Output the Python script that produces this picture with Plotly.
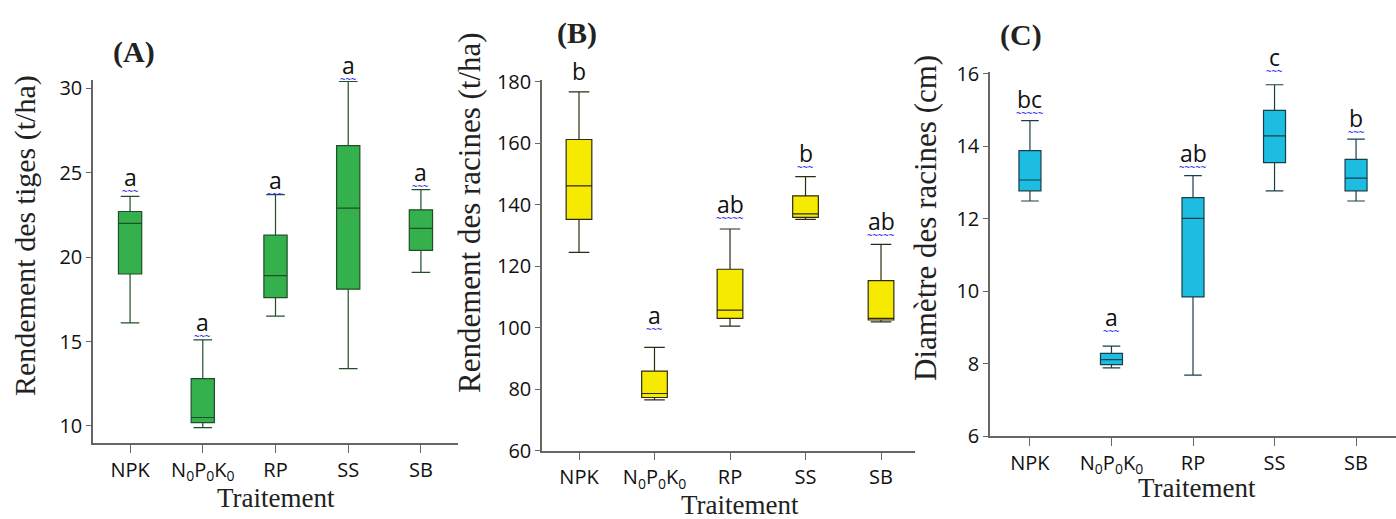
import plotly.graph_objects as go

W, H = 1396, 519

categories = ["NPK", "N<sub>0</sub>P<sub>0</sub>K<sub>0</sub>", "RP", "SS", "SB"]

# Panel A : Rendement des tiges (t/ha)
a_low = [16.1, 9.9, 16.5, 13.4, 19.1]
a_q1 = [19.0, 10.2, 17.6, 18.1, 20.4]
a_med = [22.0, 10.5, 18.9, 22.9, 21.7]
a_q3 = [22.7, 12.8, 21.3, 26.6, 22.8]
a_high = [23.6, 15.1, 23.7, 30.4, 24.0]
a_letters = ["a", "a", "a", "a", "a"]
a_letter_y = [23.85, 15.27, 23.67, 30.47, 24.14]

# Panel B : Rendement des racines (t/ha)
b_low = [124.5, 76.5, 100.5, 135.2, 101.9]
b_q1 = [135.2, 77.3, 103.0, 135.9, 102.5]
b_med = [146.1, 78.6, 105.7, 137.0, 103.0]
b_q3 = [161.2, 85.9, 119.0, 142.9, 115.3]
b_high = [176.7, 93.6, 132.1, 149.1, 127.1]
b_letters = ["b", "a", "ab", "b", "ab"]
b_letter_y = [178.6, 99.3, 135.4, 151.9, 129.8]
b_squiggle = [False, True, True, True, True]

# Panel C : Diamètre des racines (cm)
c_low = [12.49, 7.88, 7.68, 12.77, 12.49]
c_q1 = [12.77, 7.97, 9.84, 13.55, 12.77]
c_med = [13.07, 8.11, 12.01, 14.29, 13.12]
c_q3 = [13.88, 8.28, 12.58, 14.99, 13.64]
c_high = [14.71, 8.48, 13.19, 15.70, 14.20]
c_letters = ["bc", "a", "ab", "c", "b"]
c_letter_y = [14.89, 8.87, 13.40, 16.06, 14.37]

panels = [
    dict(ax="", low=a_low, q1=a_q1, med=a_med, q3=a_q3, high=a_high,
         fill="#34b04c", line="#1f4f28", width=0.32,
         letters=a_letters, ly=a_letter_y, sq=[True] * 5),
    dict(ax="2", low=b_low, q1=b_q1, med=b_med, q3=b_q3, high=b_high,
         fill="#f6ea00", line="#2e2a10", width=0.34,
         letters=b_letters, ly=b_letter_y, sq=b_squiggle),
    dict(ax="3", low=c_low, q1=c_q1, med=c_med, q3=c_q3, high=c_high,
         fill="#1cbde0", line="#173f4a", width=0.27,
         letters=c_letters, ly=c_letter_y, sq=[True] * 5),
]

fig = go.Figure()
annotations = []
for p in panels:
    fig.add_trace(go.Box(
        x=categories, q1=p["q1"], median=p["med"], q3=p["q3"],
        lowerfence=p["low"], upperfence=p["high"],
        xaxis="x" + p["ax"], yaxis="y" + p["ax"],
        fillcolor=p["fill"], line=dict(color=p["line"], width=1.2),
        width=p["width"], whiskerwidth=0.8, boxpoints=False,
        showlegend=False, hoverinfo="skip"))
    for cat, lt, yv, sq in zip(categories, p["letters"], p["ly"], p["sq"]):
        annotations.append(dict(
            x=cat, y=yv, xref="x" + p["ax"], yref="y" + p["ax"], text=lt,
            showarrow=False, yshift=15, yanchor="middle",
            font=dict(family="Open Sans", size=23, color="#111111")))
        if sq:
            annotations.append(dict(
                x=cat, y=yv, xref="x" + p["ax"], yref="y" + p["ax"],
                text="<b>" + "~" * (5 if len(lt) > 1 else 3) + "</b>",
                showarrow=False, yanchor="middle", yshift=1,
                font=dict(family="DejaVu Sans Mono", size=9, color="#2a2af0")))

axis_common = dict(showline=True, linecolor="#666666", linewidth=1.5,
                   ticks="outside", tickcolor="#666666", showgrid=False,
                   zeroline=False, automargin=False,
                   tickfont=dict(family="Open Sans", size=20, color="#111111"))

layout = dict(
    width=W, height=H,
    margin=dict(l=0, r=0, t=0, b=0, pad=0, autoexpand=False),
    plot_bgcolor="white", paper_bgcolor="white", showlegend=False,
    xaxis=dict(domain=[93 / W, 458 / W], range=[-0.51, 4.51], anchor="y",
               type="category", ticklen=8, **axis_common),
    yaxis=dict(domain=[1 - 443 / H, 1 - 80 / H], range=[8.99, 30.49], anchor="x",
               tickvals=[10, 15, 20, 25, 30], ticklen=5, **axis_common),
    xaxis2=dict(domain=[542 / W, 915 / W], range=[-0.49, 4.45], anchor="y2",
                type="category", ticklen=8, **axis_common),
    yaxis2=dict(domain=[1 - 450.7 / H, 1 - 80 / H], range=[60, 180.55], anchor="x2",
                tickvals=[60, 80, 100, 120, 140, 160, 180], ticklen=5, **axis_common),
    xaxis3=dict(domain=[990 / W, 1.0], range=[-0.49, 4.49], anchor="y3",
                type="category", ticklen=8, **axis_common),
    yaxis3=dict(domain=[1 - 436 / H, 1 - 71.7 / H], range=[6, 16.06], anchor="x3",
                tickvals=[6, 8, 10, 12, 14, 16], ticklen=5, **axis_common),
)

serif = "Liberation Serif"
titles = [
    ("(A)", 134, 52, 0, 30, True),
    ("(B)", 577, 33, 0, 30, True),
    ("(C)", 1021, 35, 0, 30, True),
    ("Rendement des tiges (t/ha)", 25, 236, -90, 30, False),
    ("Rendement des racines (t/ha)", 470, 213, -90, 31, False),
    ("Diamètre des racines (cm)", 925, 218, -90, 31, False),
    ("Traitement", 276, 498, 0, 27, False),
    ("Traitement", 740, 505, 0, 27, False),
    ("Traitement", 1197, 488, 0, 27, False),
]
for text, px, py, ang, size, bold in titles:
    annotations.append(dict(
        x=px / W, y=1 - py / H, xref="paper", yref="paper",
        text=f"<b>{text}</b>" if bold else text, textangle=ang,
        showarrow=False, xanchor="center", yanchor="middle",
        font=dict(family=serif, size=size, color="#222222")))

layout["annotations"] = annotations
fig.update_layout(**layout)
fig.write_html("out.html")
